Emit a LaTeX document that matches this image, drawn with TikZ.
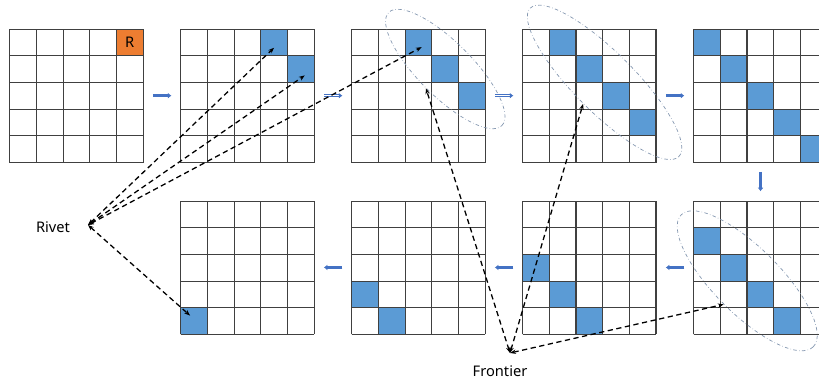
\documentclass[tikz,border=0pt]{standalone}
\usepackage{fontspec}
\setmainfont{Noto Sans}
\usetikzlibrary{positioning, calc, arrows.meta, shapes.geometric}

\definecolor{cellblue}{HTML}{5B9BD5}
\definecolor{rorange}{HTML}{ED7D31}
\definecolor{gridgray}{HTML}{404040}
\definecolor{flowblue}{HTML}{4472C4}
\definecolor{zonegray}{HTML}{8497B0}

\newcommand{\hitcell}[3]{\node[hit] (#1-#2#3) at ($(#1.north west)+(#3*0.8+0.4,-#2*0.8-0.4)$) {};}

\begin{document}
\begin{tikzpicture}[node distance=1.115cm,
  board/.style={minimum size=4cm, inner sep=0pt},
  hit/.style={fill=cellblue, minimum size=8mm, inner sep=0pt},
  gridline/.style={gridgray, line width=0.9pt},
  flow/.style={-{Latex[length=3pt,width=5pt]}, flowblue, line width=2.2pt, shorten <=2.8mm, shorten >=2.8mm},
  hollow/.style={line width=0.6pt, double=white, double distance=1.2pt},
  link/.style={{Stealth[length=5pt]}-{Stealth[length=5pt]}, dash pattern=on 4.5pt off 3pt, line width=1.1pt},
  zone/.style={ellipse, draw=zonegray, dash dot, line width=0.6pt, rotate=-45, inner sep=0pt},
  every node/.style={font=\fontsize{12.5}{14}\selectfont}]
  \useasboundingbox (0,0) rectangle (24.57,11.43);

  % top row, left to right
  \node[board] (g1) at (2.3,8.56) {};
  \node[board] (g2) [right=of g1] {};
  \node[board] (g3) [right=of g2] {};
  \node[board] (g4) [right=of g3] {};
  \node[board] (g5) [right=of g4] {};
  % bottom row, right to left
  \node[board] (b4) [below=1.14cm of g5] {};
  \node[board] (b3) [left=of b4] {};
  \node[board] (b2) [left=of b3] {};
  \node[board] (b1) [left=of b2] {};

  % filled cells
  \node[hit, fill=rorange] (g1-04) at ($(g1.north west)+(3.6,-0.4)$) {R};
  \hitcell{g2}{0}{3} \hitcell{g2}{1}{4}
  \foreach \r/\c in {0/2,1/3,2/4} {\hitcell{g3}{\r}{\c}}
  \foreach \r/\c in {0/1,1/2,2/3,3/4} {\hitcell{g4}{\r}{\c}}
  \foreach \r in {0,...,4} {\hitcell{g5}{\r}{\r}}
  \foreach \r/\c in {1/0,2/1,3/2,4/3} {\hitcell{b4}{\r}{\c}}
  \foreach \r/\c in {2/0,3/1,4/2} {\hitcell{b3}{\r}{\c}}
  \foreach \r/\c in {3/0,4/1} {\hitcell{b2}{\r}{\c}}
  \hitcell{b1}{4}{0}

  % 5x5 grids
  \foreach \g in {g1,g2,g3,g4,g5,b1,b2,b3,b4} {
    \begin{scope}[shift={(\g.south west)}]
      \draw[gridline, step=8mm] (0,0) grid (4,4);
    \end{scope}
  }

  % frontier zones
  \node[zone, minimum width=4.8cm, minimum height=1.62cm] (z3) at ($(g3)+(0.8,0.8)$) {};
  \node[zone, minimum width=6.3cm, minimum height=1.8cm] (z4) at ($(g4)+(0.45,0.4)$) {};
  \node[zone, minimum width=5.6cm, minimum height=1.98cm] (zb4) at ($(b4)+(-0.4,-0.4)$) {};

  % steps
  \path[flow]
    (g1) edge (g2)
    (g2) edge[hollow] (g3)
    (g3) edge[hollow] (g4)
    (g4) edge (g5)
    (g5) edge (b4)
    (b4) edge (b3)
    (b3) edge (b2)
    (b2) edge (b1);

  % labels
  \node (rivet) at (1.59,4.62) {Rivet};
  \coordinate (rv) at (2.64,4.68);
  \node (frontier) at (15.0,0.28) {Frontier};
  \coordinate (fr) at (15.3,0.84);

  \coordinate (aim1) at ($(g2-03)+(0,-0.17)$);
  \coordinate (aim2) at ($(g2-14)+(0.12,-0.2)$);
  \coordinate (aim3) at ($(g3-02)+(0.1,-0.15)$);
  \coordinate (aim4) at ($(b1-40)+(-0.12,0.15)$);

  \path[link]
    (rv) edge (aim1)
    (rv) edge (aim2)
    (rv) edge (aim3)
    (rv) edge (aim4)
    (fr) edge (z3.south)
    (fr) edge (z4.south)
    (fr) edge (zb4.south);
\end{tikzpicture}
\end{document}
